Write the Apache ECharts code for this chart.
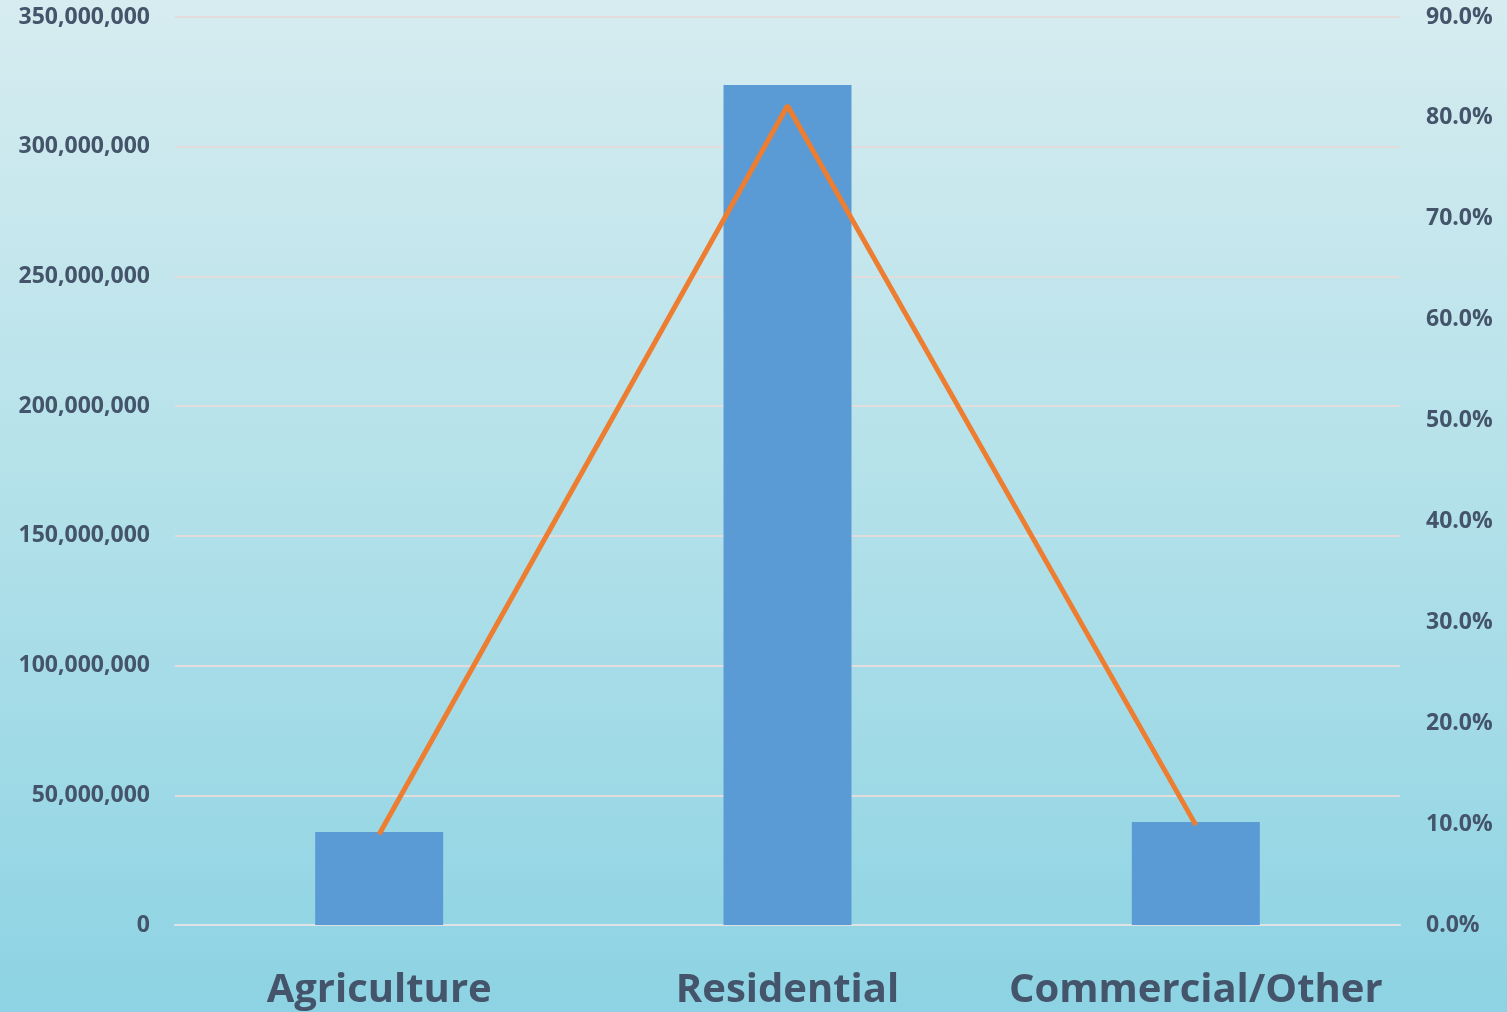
<!DOCTYPE html>
<html>
<head>
<meta charset="utf-8">
<script src="https://cdn.jsdelivr.net/npm/echarts@6/dist/echarts.min.js"></script>
<style>
  html, body { margin: 0; padding: 0; }
  #chart { width: 1507px; height: 1012px; }
</style>
</head>
<body>
<div id="chart"></div>
<script>
// data
var categories = ['Agriculture', 'Residential', 'Commercial/Other'];
var volumes = [35800000, 323800000, 39700000];
var shares = [9.0, 81.2, 9.9];

var labelColor = '#44546a';

var myChart = echarts.init(document.getElementById('chart'));

var option = {
    backgroundColor: {
        type: 'linear', x: 0, y: 0, x2: 0, y2: 1,
        colorStops: [
            { offset: 0, color: '#d6ecf0' },
            { offset: 0.45, color: '#b6e2ea' },
            { offset: 1, color: '#8dd3e3' }
        ]
    },
    textStyle: { fontFamily: 'Open Sans' },
    grid: { left: 175, right: 107, top: 17, bottom: 87 },
    xAxis: {
        type: 'category',
        data: categories,
        axisTick: { show: false },
        axisLine: { show: true, lineStyle: { color: '#dfe3e6', width: 2 } },
        axisLabel: {
            interval: 0,
            color: labelColor,
            fontSize: 40,
            fontWeight: 'bold',
            margin: 46
        }
    },
    yAxis: [
        {
            type: 'value',
            min: 0,
            max: 350000000,
            interval: 50000000,
            axisLine: { show: false },
            axisTick: { show: false },
            splitLine: { lineStyle: { color: '#e2dcdc', width: 2 } },
            axisLabel: {
                color: labelColor,
                fontSize: 23,
                fontWeight: 'bold',
                margin: 25,
                formatter: function (v) { return v.toLocaleString('en-US'); }
            }
        },
        {
            type: 'value',
            min: 0,
            max: 90,
            interval: 10,
            axisLine: { show: false },
            axisTick: { show: false },
            splitLine: { show: false },
            axisLabel: {
                color: labelColor,
                fontSize: 23,
                fontWeight: 'bold',
                margin: 26,
                formatter: function (v) { return v.toFixed(1) + '%'; }
            }
        }
    ],
    series: [
        {
            name: 'Volume',
            type: 'bar',
            data: volumes,
            barWidth: 128,
            itemStyle: { color: '#5b9bd5' }
        },
        {
            name: 'Share',
            type: 'line',
            yAxisIndex: 1,
            data: shares,
            symbol: 'none',
            lineStyle: { color: '#ed7d31', width: 5 },
            itemStyle: { color: '#ed7d31' }
        }
    ]
};

myChart.setOption(option);
</script>
</body>
</html>
